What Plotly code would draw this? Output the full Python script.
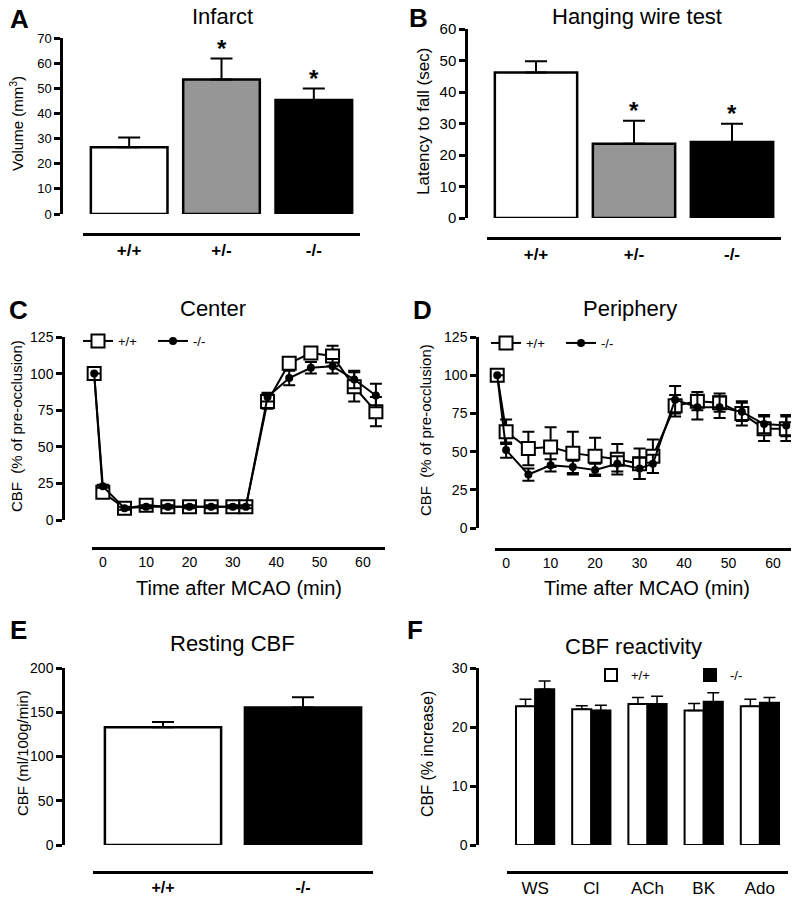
import plotly.graph_objects as go

# page has an 8px body margin; figure is sized so that it fills the 799x899 window
OFF = 8
W, H = 799 - OFF, 899 - OFF
def fx(p): return (p - OFF) / W
def fy(p): return 1 - (p - OFF) / H

FONT = "Liberation Sans, Arial, sans-serif"

# ---------------- data ----------------
geno3 = ["+/+", "+/-", "-/-"]
infarct_vals = [26.5, 53.5, 45.3]
infarct_err = [3.9, 8.3, 4.6]
infarct_sig = [False, True, True]

wire_vals = [46.2, 23.6, 24.1]
wire_err = [3.6, 7.3, 5.8]
wire_sig = [False, True, True]

bar_colors3 = ["white", "#969696", "black"]

time_min = [-2, 0, 5, 10, 15, 20, 25, 30, 33, 38, 43, 48, 53, 58, 63]
center_wt = [100, 19, 8, 10, 9, 9, 9, 9, 9, 81, 107, 114, 112, 91, 74]
center_wt_err = [0, 2, 1, 1, 1, 1, 1, 1, 1, 5, 3, 4, 7, 10, 10]
center_ko = [100, 23, 8, 9, 9, 9, 9, 9, 9, 84, 97, 104, 105, 96, 85]
center_ko_err = [0, 1, 1, 1, 1, 1, 1, 1, 1, 3, 5, 4, 5, 6, 8]

periph_wt = [100, 63, 52, 53, 49, 47, 45, 42, 47, 80, 83, 82, 75, 65, 65]
periph_wt_err = [0, 8, 11, 13, 14, 12, 10, 10, 11, 7, 6, 6, 8, 8, 8]
periph_ko = [100, 51, 35, 41, 40, 38, 42, 39, 42, 84, 79, 79, 76, 68, 67]
periph_ko_err = [0, 5, 4, 4, 4, 4, 5, 7, 6, 9, 8, 7, 6, 6, 7]

geno2 = ["+/+", "-/-"]
resting_vals = [133, 155.5]
resting_err = [6, 11.5]
bar_colors2 = ["white", "black"]

stimuli = ["WS", "Cl", "ACh", "BK", "Ado"]
react_wt = [23.5, 23.0, 23.9, 22.8, 23.5]
react_wt_err = [1.2, 0.6, 1.1, 1.2, 1.2]
react_ko = [26.4, 22.8, 23.9, 24.3, 24.1]
react_ko_err = [1.4, 0.9, 1.3, 1.5, 0.9]

time_ticks = [0, 10, 20, 30, 40, 50, 60]

fig = go.Figure()
LW = 2.5

def bar_err(err):
    return dict(type="data", array=err, arrayminus=[0] * len(err), symmetric=False,
                color="black", thickness=2, width=11)

# A
fig.add_trace(go.Bar(x=geno3, y=infarct_vals, marker=dict(color=bar_colors3, line=dict(color="black", width=LW)),
                     width=0.83, error_y=bar_err(infarct_err), xaxis="x", yaxis="y", showlegend=False))
# B
fig.add_trace(go.Bar(x=geno3, y=wire_vals, marker=dict(color=bar_colors3, line=dict(color="black", width=LW)),
                     width=0.84, error_y=bar_err(wire_err), xaxis="x2", yaxis="y2", showlegend=False))

# C, D
def line_traces(wt, wte, ko, koe, xa, ya, leg):
    fig.add_trace(go.Scatter(x=time_min, y=wt, mode="lines+markers", name="+/+",
                             line=dict(color="black", width=2),
                             marker=dict(symbol="square", size=13, color="white", line=dict(color="black", width=2)),
                             error_y=dict(type="data", array=wte, color="black", thickness=2, width=6),
                             xaxis=xa, yaxis=ya, legend=leg, cliponaxis=False))
    fig.add_trace(go.Scatter(x=time_min, y=ko, mode="lines+markers", name="-/-",
                             line=dict(color="black", width=2),
                             marker=dict(symbol="circle", size=8, color="black"),
                             error_y=dict(type="data", array=koe, color="black", thickness=2, width=6),
                             xaxis=xa, yaxis=ya, legend=leg, cliponaxis=False))

line_traces(center_wt, center_wt_err, center_ko, center_ko_err, "x3", "y3", "legend")
line_traces(periph_wt, periph_wt_err, periph_ko, periph_ko_err, "x4", "y4", "legend2")

# E
fig.add_trace(go.Bar(x=geno2, y=resting_vals, marker=dict(color=bar_colors2, line=dict(color="black", width=LW)),
                     width=0.83, error_y=bar_err(resting_err), xaxis="x5", yaxis="y5", showlegend=False))
# F
fig.add_trace(go.Bar(x=stimuli, y=react_wt, name="+/+", marker=dict(color="white", line=dict(color="black", width=2)),
                     error_y=dict(type="data", array=react_wt_err, arrayminus=[0]*5, symmetric=False,
                                  color="black", thickness=1.5, width=6),
                     xaxis="x6", yaxis="y6", legend="legend3"))
fig.add_trace(go.Bar(x=stimuli, y=react_ko, name="-/-", marker=dict(color="black", line=dict(color="black", width=2)),
                     error_y=dict(type="data", array=react_ko_err, arrayminus=[0]*5, symmetric=False,
                                  color="black", thickness=1.5, width=6),
                     xaxis="x6", yaxis="y6", legend="legend3"))

def xax(d0, d1, pos, rng, fontsize, bold=False, **kw):
    return dict(domain=[fx(d0), fx(d1)], anchor="free", position=fy(pos), range=rng,
                showline=True, linewidth=3, linecolor="black", ticks="", showgrid=False, zeroline=False,
                automargin=False,
                tickfont=dict(family=FONT, size=fontsize, color="black",
                              weight="bold" if bold else "normal"),
                fixedrange=True, **kw)

def yax(top, bottom, pos, rng, dtick, fontsize):
    return dict(domain=[fy(bottom), fy(top)], anchor="free", position=fx(pos), range=rng, dtick=dtick,
                showline=True, linewidth=LW, linecolor="black", ticks="outside", ticklen=6, tickwidth=LW,
                tickcolor="black", showgrid=False, zeroline=False, automargin=False,
                tickfont=dict(family=FONT, size=fontsize, color="black"), fixedrange=True)

leg_common = dict(xanchor="left", yanchor="top", orientation="h", itemwidth=30,
                  font=dict(family=FONT, size=13), bgcolor="rgba(0,0,0,0)")

layout = dict(
    width=W, height=H, autosize=False, margin=dict(l=0, r=0, t=0, b=0, autoexpand=False),
    paper_bgcolor="white", plot_bgcolor="white", font=dict(family=FONT, color="black"),
    barmode="group", bargap=0.32, bargroupgap=0,
    xaxis=xax(83, 360, 234, [-0.5, 2.5], 17, True),
    yaxis=yax(38, 214, 61, [0, 70], 10, 13),
    xaxis2=xax(487, 781, 238, [-0.5, 2.5], 17, True),
    yaxis2=yax(29, 218, 466, [0, 60], 10, 15),
    xaxis3=xax(92, 385, 548, [-2.5, 65.1], 14, False, tickvals=time_ticks),
    yaxis3=yax(337, 520, 63, [0, 125], 25, 14),
    xaxis4=xax(495, 797, 549, [-2.5, 65.4], 14, False, tickvals=time_ticks),
    yaxis4=yax(337, 528, 477, [0, 125], 25, 14),
    xaxis5=xax(93, 373, 872, [-0.5, 1.5], 16, True),
    yaxis5=yax(668, 845, 63, [0, 200], 50, 14),
    xaxis6=xax(507, 788, 872, [-0.5, 4.5], 17, False),
    yaxis6=yax(668, 845, 477, [0, 30], 10, 14),
    legend=dict(x=fx(78), y=fy(326), entrywidth=30, **leg_common),
    legend2=dict(x=fx(486), y=fy(328), entrywidth=30, **leg_common),
    legend3=dict(x=fx(591), y=fy(660), entrywidth=54, **leg_common),
)
fig.update_layout(**layout)

ann = []
def txt(x, y, s, size, bold=False, angle=0):
    ann.append(dict(x=fx(x), y=fy(y), xref="paper", yref="paper", text=s, showarrow=False,
                    xanchor="center", yanchor="middle", textangle=angle,
                    font=dict(family=FONT, size=size, color="black", weight="bold" if bold else "normal")))

# panel letters
for lab, x, y in [("A", 19, 19), ("B", 418, 18), ("C", 18, 310), ("D", 422, 310), ("E", 18, 630), ("F", 415, 630)]:
    txt(x, y, lab, 26, True)
# titles
txt(222, 17, "Infarct", 22)
txt(637, 17, "Hanging wire test", 22)
txt(213, 308, "Center", 22)
txt(630, 308, "Periphery", 22)
txt(232, 643, "Resting CBF", 22)
txt(633, 646, "CBF reactivity", 22)
# y titles
txt(17, 124, "Volume (mm<sup>3</sup>)", 15, angle=-90)
txt(424, 121, "Latency to fall (sec)", 17, angle=-90)
txt(16, 426, "CBF  (% of pre-occlusion)", 15, angle=-90)
txt(425, 430, "CBF  (% of pre-occlusion)", 15, angle=-90)
txt(22, 753, "CBF (ml/100g/min)", 15, angle=-90)
txt(427, 754, "CBF (% increase)", 16, angle=-90)
# x titles
txt(239, 588, "Time after MCAO (min)", 20)
txt(647, 588, "Time after MCAO (min)", 20)

# significance stars
for xa, ya, cats, vals, errs, sig in [("x", "y", geno3, infarct_vals, infarct_err, infarct_sig),
                                       ("x2", "y2", geno3, wire_vals, wire_err, wire_sig)]:
    for c, v, e, s in zip(cats, vals, errs, sig):
        if s:
            ann.append(dict(x=c, y=v + e, xref=xa, yref=ya, text="*", showarrow=False,
                            yanchor="bottom", yshift=-5,
                            font=dict(family=FONT, size=24, color="black", weight="bold")))

fig.update_layout(annotations=ann)
fig.write_html("out.html")
